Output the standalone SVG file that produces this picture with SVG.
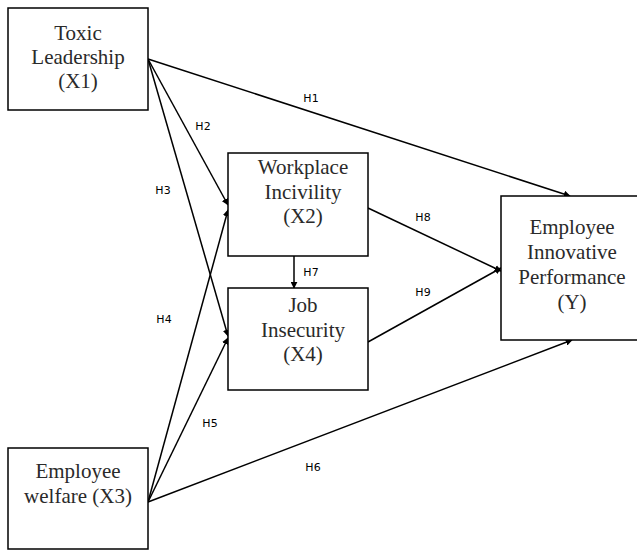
<svg xmlns="http://www.w3.org/2000/svg" width="637" height="551" viewBox="0 0 637 551">
<style>
.box{fill:#fff;stroke:#000;stroke-width:1.5}
.t{font-family:"Liberation Serif",serif;font-size:21px;fill:#2a2a2a;text-anchor:middle}
.l{font-family:"DejaVu Sans",sans-serif;font-size:11px;fill:#000;text-anchor:middle}
.c{stroke:#000;stroke-width:1.5;fill:none;marker-end:url(#ah)}
</style>
<defs>
<marker id="ah" viewBox="0 0 10 10" refX="9" refY="5" markerWidth="7" markerHeight="7" markerUnits="userSpaceOnUse" orient="auto">
<path d="M0,0 L10,5 L0,10 z" fill="#000"/>
</marker>
</defs>
<rect width="637" height="551" fill="#fff"/>
<g id="connectors">
<line class="c" x1="148" y1="59" x2="570" y2="196"/>
<line class="c" x1="148" y1="59" x2="228" y2="205"/>
<line class="c" x1="148" y1="59" x2="228" y2="336"/>
<line class="c" x1="148" y1="502" x2="228" y2="210"/>
<line class="c" x1="148" y1="502" x2="228" y2="338"/>
<line class="c" x1="148" y1="502" x2="572" y2="340"/>
<line class="c" x1="294" y1="256" x2="294" y2="288"/>
<line class="c" x1="368" y1="208" x2="501" y2="271"/>
<line class="c" x1="368" y1="342" x2="501" y2="268"/>
</g>
<g id="labels">
<text class="l" x="311" y="102">H1</text>
<text class="l" x="203" y="130">H2</text>
<text class="l" x="163" y="194">H3</text>
<text class="l" x="164" y="323">H4</text>
<text class="l" x="210" y="427">H5</text>
<text class="l" x="313" y="471">H6</text>
<text class="l" x="311" y="276">H7</text>
<text class="l" x="423" y="221">H8</text>
<text class="l" x="423" y="296">H9</text>
</g>
<g id="x1">
<rect class="box" x="8" y="8" width="140" height="102"/>
<text class="t" x="78" y="40">Toxic</text>
<text class="t" x="78" y="64">Leadership</text>
<text class="t" x="78" y="88">(X1)</text>
</g>
<g id="x2">
<rect class="box" x="228" y="153" width="140" height="103"/>
<text class="t" x="303" y="174">Workplace</text>
<text class="t" x="303" y="199">Incivility</text>
<text class="t" x="303" y="223">(X2)</text>
</g>
<g id="x4">
<rect class="box" x="228" y="288" width="140" height="102"/>
<text class="t" x="303" y="312">Job</text>
<text class="t" x="303" y="337">Insecurity</text>
<text class="t" x="303" y="361">(X4)</text>
</g>
<g id="y">
<rect class="box" x="501" y="196" width="140" height="144"/>
<text class="t" x="572" y="234">Employee</text>
<text class="t" x="572" y="259">Innovative</text>
<text class="t" x="572" y="284">Performance</text>
<text class="t" x="572" y="309">(Y)</text>
</g>
<g id="x3">
<rect class="box" x="8" y="448" width="140" height="101"/>
<text class="t" x="78" y="478">Employee</text>
<text class="t" x="78" y="503">welfare (X3)</text>
</g>
</svg>
